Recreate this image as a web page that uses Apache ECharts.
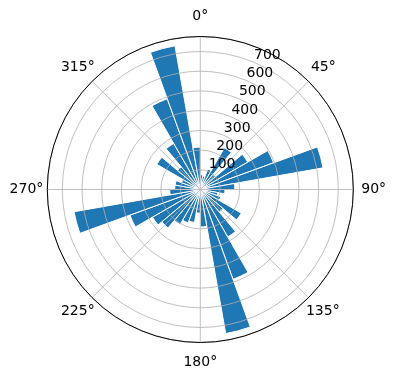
<!DOCTYPE html>
<html>
<head>
<meta charset="utf-8">
<script src="https://cdn.jsdelivr.net/npm/echarts@6/dist/echarts.min.js"></script>
<style>
  html, body { margin: 0; padding: 0; background: #fff; }
  #main { width: 396px; height: 380px; }
</style>
</head>
<body>
<div id="main"></div>
<script>
// bins of 10 degrees, clockwise from north
var binStarts = [0, 10, 20, 30, 40, 50, 60, 70, 80, 90, 100, 110,
                 120, 130, 140, 150, 160, 170, 180, 190, 200, 210, 220, 230,
                 240, 250, 260, 270, 280, 290, 300, 310, 320, 330, 340, 350];
var counts = [75, 70, 110, 245, 100, 278, 395, 632, 175, 125, 90, 110,
              240, 150, 278, 485, 742, 190, 120, 170, 180, 205, 255, 280,
              380, 650, 155, 130, 130, 100, 255, 150, 270, 490, 740, 215];
var thetaTicks = [0, 45, 90, 135, 180, 225, 270, 315];
var rTicks = [100, 200, 300, 400, 500, 600, 700];
var rMax = 776;

var myChart = echarts.init(document.getElementById('main'));
var cx = 200.3, cy = 189.5, rad = 153;
var font = { fontFamily: 'DejaVu Sans', fontSize: 14, color: '#000' };

// echarts anchors theta labels by side, padding pushes them so they sit centred
// on one circle like matplotlib does
var thetaPad = {
    t0: [0, 0, 18, 0],
    t45: [0, 0, 10, 6],
    t90: [0, 0, 0, 13],
    t135: [10, 0, 0, 1],
    t180: [18, 0, 0, 0],
    t225: [10, 1, 0, 0],
    t270: [0, 9, 0, 0],
    t315: [0, 1, 10, 0]
};
var thetaRich = {};
Object.keys(thetaPad).forEach(function (k) {
    thetaRich[k] = Object.assign({ padding: thetaPad[k] }, font);
});

var option = {
    animation: false,
    polar: [
        { center: [cx, cy], radius: rad },   // bars
        { center: [cx, cy], radius: rad },   // grid + theta labels
        { center: [cx, cy], radius: rad }    // r labels at 22.5 deg
    ],
    angleAxis: [{
        polarIndex: 0,
        type: 'category',
        data: binStarts,
        startAngle: 90,
        clockwise: true,
        show: false
    }, {
        polarIndex: 1,
        type: 'value',
        min: 0,
        max: 360,
        interval: 45,
        startAngle: 90,
        clockwise: true,
        z: 5,
        axisLine: { lineStyle: { color: '#000', width: 1 } },
        axisTick: { show: false },
        axisLabel: Object.assign({
            margin: -5,
            rich: thetaRich,
            formatter: function (v) {
                return thetaTicks.indexOf(v) >= 0 ? '{t' + v + '|' + v + '°}' : '';
            }
        }, font),
        splitLine: { lineStyle: { color: '#b0b0b0', width: 0.8 } }
    }, {
        polarIndex: 2,
        type: 'value',
        min: 0,
        max: 360,
        startAngle: 67.5,
        show: false
    }],
    radiusAxis: [{
        polarIndex: 0,
        type: 'value',
        min: 0,
        max: rMax,
        show: false
    }, {
        polarIndex: 1,
        type: 'value',
        min: 0,
        max: rMax,
        interval: 100,
        z: 4,
        axisLine: { show: false },
        axisTick: { show: false },
        axisLabel: { show: false },
        splitLine: { lineStyle: { color: '#b0b0b0', width: 0.8 } }
    }, {
        polarIndex: 2,
        type: 'value',
        min: 0,
        max: rMax,
        interval: 100,
        z: 6,
        axisLine: { show: false },
        axisTick: { show: false },
        splitLine: { show: false },
        axisLabel: Object.assign({
            margin: -1,
            showMinLabel: false,
            showMaxLabel: false,
            align: 'left',
            verticalAlign: 'bottom',
            formatter: function (v) { return rTicks.indexOf(v) >= 0 ? String(v) : ''; }
        }, font)
    }],
    series: [{
        type: 'bar',
        coordinateSystem: 'polar',
        polarIndex: 0,
        data: counts,
        barCategoryGap: '0%',
        itemStyle: { color: '#1f77b4', borderColor: '#fff', borderWidth: 1 }
    }]
};
myChart.setOption(option);
</script>
</body>
</html>
